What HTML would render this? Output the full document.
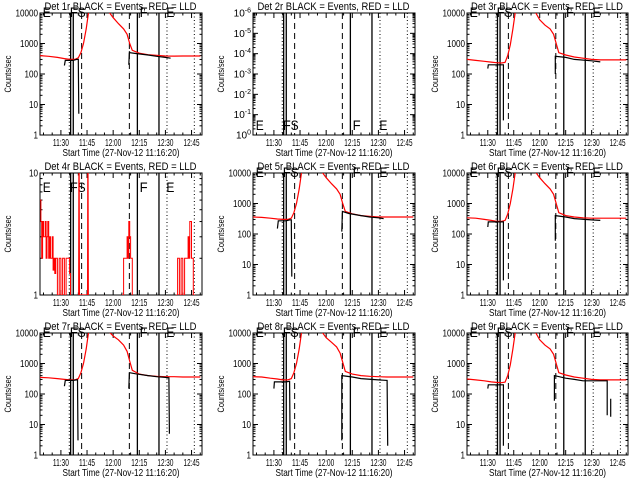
<!DOCTYPE html>
<html><head><meta charset="utf-8"><style>
html,body{margin:0;padding:0;background:#fff;}
svg{display:block;font-family:"Liberation Sans",sans-serif;}
</style></head><body>
<svg id="chart" width="640" height="480" viewBox="0 0 640 480" xmlns="http://www.w3.org/2000/svg">
<rect x="0" y="0" width="640" height="480" fill="#fff"/>
</svg>
<script>
// ---- data ----
const xTickLabels = ["11:30","11:45","12:00","12:15","12:30","12:45"];
const xTickTimes = [690,705,720,735,750,765];
const markerTimes = [694.8,695.6,697.1,701.9,729.3,733.9,746.3,750.9,766.6];
const markerStyles = ["dot","solid","solid","dash","dash","solid","solid","dot","dot"];
const letterLabels = ["E","F","S","F","E"];
const letterTimes = [679,694.5,699,734.6,750];
const redT = [678,683,688,692,695,698,700,701.5,703,704.5,706,717,720,723,726,728,729.5,731,735,740,745,750,755,760,765,770];
const red1 = [400,380,350,320,300,300,340,500,1000,3000,12000,12000,7000,4500,3000,2000,1000,600,480,430,410,390,385,390,390,390];
const red3 = [300,280,260,245,235,230,240,400,900,3000,12000,12000,6000,4000,3000,2000,1000,500,420,360,330,300,290,290,290,290];
const red5 = [360,350,330,310,300,300,330,500,1000,3000,12000,12000,7000,4500,3000,2000,1000,550,460,400,380,360,360,360,360,360];
const red6 = [340,330,300,280,260,260,280,450,1000,3000,12000,12000,7000,4500,3000,2000,1000,500,400,360,340,330,330,330,330,330];
const red7 = [350,340,320,300,290,290,320,500,1000,3000,12000,12000,8000,6000,4000,2500,1200,600,450,400,380,370,370,360,360,360];
const red8 = [370,360,330,310,290,290,320,500,1000,3000,12000,12000,7000,5000,3500,2200,1100,550,450,400,380,370,360,360,360,360];
const red9 = [310,290,270,250,240,235,245,400,900,3000,12000,12000,6000,4000,3000,2000,1000,500,420,360,330,300,290,290,290,290];
const blk1T = [692,692.5,697,698,699,700,700.3,NaN,729,729.3,729.6,733,740,745,750,753];
const blk1V = [190,280,280,290,300,300,5,NaN,200,550,500,470,420,380,350,330];
const blk3T = [690,690.3,699,699,NaN,729,729,735,740,750,755];
const blk3V = [150,200,200,3,NaN,100,380,350,300,270,250];
const blk5T = [692,692.5,697,699,700,700.3,NaN,729,729.3,733,740,745,750,753];
const blk5V = [150,270,270,290,290,4,NaN,120,550,470,400,360,340,320];
const blk6T = [690,690.3,699,699,NaN,729,729,735,740,750,755];
const blk6V = [170,250,250,3,NaN,60,400,360,320,290,280];
const blk7T = [692,692.5,697,699,699.5,699.8,NaN,729,729.3,733,740,745,750,752,752.3];
const blk7V = [180,280,280,290,290,3,NaN,150,500,460,400,370,350,340,5];
const blk8T = [690,690.3,697,699,699.3,NaN,729,729,735,740,750,755,755.3];
const blk8V = [150,250,250,260,3,NaN,3,400,360,320,290,280,2];
const blk9T = [690,690.3,699,699,NaN,728.5,728.5,735,740,745,759,759,NaN,761,761];
const blk9V = [150,200,200,2,NaN,60,400,330,300,270,270,20,NaN,70,18];
const p4T = [678,678.5,679,679.5,680,681,681.5,682,682.5,683,683.5,684,685,685.5,686,686.5,687,688,689,690,691,692,693,694,695,695.5];
const p4V = [6,4,2,4,3,4,2,3,4,2,3,2,3,1.6,2,1.5,2,1,2,1,2,1,2,2,1.5,1];
const p4bT = [700.2,700.4,700.6,705.3,705.5,705.7];
const p4bV = [1,20,1,1,20,1];
const p4cT = [725,726,727,727.5,728,728.5,729,729.5,730,731];
const p4cV = [1,2,2,2,3,2,4,3,2,1];
const p4dT = [756,757,758,759,760,761,762,763,763.5,764,765,766,767];
const p4dV = [1,2,1,2,1,2,2,3,2,4,2,1,1];

// ---- layout ----
const NS="http://www.w3.org/2000/svg";
const svg=document.getElementById('chart');
const colX=[40,253,467], colW=[162,162,161], rowY=[13,173,333], PH=122;
const T0=678, T1=771;
function mk(tag,attrs,parent){const e=document.createElementNS(NS,tag);for(const k in attrs)e.setAttribute(k,attrs[k]);(parent||svg).appendChild(e);return e;}
function fit(e,len){e.setAttribute('textLength',len);e.setAttribute('lengthAdjust','spacingAndGlyphs');}

const panels=[
 {det:1,c:0,r:0,ymin:1,ymax:10000,kind:"std",red:red1,bT:blk1T,bV:blk1V,letters:"top-hidden"},
 {det:2,c:1,r:0,ymin:1,ymax:1e6,kind:"pow",red:null,letters:"bottom"},
 {det:3,c:2,r:0,ymin:1,ymax:10000,kind:"std",red:red3,bT:blk3T,bV:blk3V,letters:"top-hidden"},
 {det:4,c:0,r:1,ymin:1,ymax:10,kind:"small",red:null,letters:"top"},
 {det:5,c:1,r:1,ymin:1,ymax:10000,kind:"std",red:red5,bT:blk5T,bV:blk5V,letters:"top-hidden"},
 {det:6,c:2,r:1,ymin:1,ymax:10000,kind:"std",red:red6,bT:blk6T,bV:blk6V,letters:"top-hidden"},
 {det:7,c:0,r:2,ymin:1,ymax:10000,kind:"std",red:red7,bT:blk7T,bV:blk7V,letters:"top-hidden"},
 {det:8,c:1,r:2,ymin:1,ymax:10000,kind:"std",red:red8,bT:blk8T,bV:blk8V,letters:"top-hidden"},
 {det:9,c:2,r:2,ymin:1,ymax:10000,kind:"std",red:red9,bT:blk9T,bV:blk9V,letters:"top-hidden"}
];

panels.forEach((p,i)=>{
 const x0=colX[p.c], w=colW[p.c], y0=rowY[p.r], y1=y0+PH;
 const g=mk('g',{});
 
 
 const X=t=>x0+(t-T0)/(T1-T0)*w;
 const lmin=Math.log10(p.ymin), lmax=Math.log10(p.ymax);
 const Y=v=>y1-(Math.log10(v)-lmin)/(lmax-lmin)*PH;
 const cp=mk('clipPath',{id:'cp'+i},g); mk('rect',{x:x0,y:y0,width:w,height:PH},cp);
 // letters (drawn first so title overlays)
 letterLabels.forEach((s,k)=>{let yy;
  if(p.letters==="bottom")yy=y1-5;else if(p.letters==="top")yy=y0+19;else yy=y0+4;
  const lt=mk('text',{x:X(letterTimes[k])+1,y:yy,'font-size':'14'},g);lt.textContent=s;
  fit(lt,8);
  
  });
 // title
 const tt=mk('text',{x:x0+w/2-0.5,y:y0-3,'text-anchor':'middle','font-size':'11'},g);
 tt.textContent='Det '+p.det+'r BLACK = Events, RED = LLD';
 fit(tt,152);
 
 
 // axes box
 const box=mk('rect',{x:x0,y:y0,width:w,height:PH,fill:'none',stroke:'#000','stroke-width':1},g);
 
 
 // x ticks
 for(let m=680;m<=770;m+=5){const xx=X(m);const L=(m%15===0)?5:2.5;
  mk('line',{x1:xx,x2:xx,y1:y1,y2:y1-L,stroke:'#000'},g);mk('line',{x1:xx,x2:xx,y1:y0,y2:y0+L,stroke:'#000'},g);}
 xTickTimes.forEach((t,k)=>{const tx=mk('text',{x:X(t),y:y1+11,'text-anchor':'middle','font-size':'10'},g);tx.textContent=xTickLabels[k];
  fit(tx,16);
  
  });
 const xl=mk('text',{x:x0+w/2,y:y1+21,'text-anchor':'middle','font-size':'10.5'},g);
 xl.textContent='Start Time (27-Nov-12 11:16:20)';
 fit(xl,117);
 
 
 // y ticks
 for(let d=lmin;d<=lmax;d++){
  const yy=Y(Math.pow(10,d));
  mk('line',{x1:x0,x2:x0+5,y1:yy,y2:yy,stroke:'#000'},g);mk('line',{x1:x0+w,x2:x0+w-5,y1:yy,y2:yy,stroke:'#000'},g);
  if(d<lmax)for(let k=2;k<10;k++){const ym=Y(k*Math.pow(10,d));mk('line',{x1:x0,x2:x0+2.5,y1:ym,y2:ym,stroke:'#000'},g);mk('line',{x1:x0+w,x2:x0+w-2.5,y1:ym,y2:ym,stroke:'#000'},g);}
  const lab=mk('text',{x:x0-2,y:yy+3.5,'text-anchor':'end','font-size':'10'},g);
  if(p.kind==="pow"){lab.textContent='10';const s=mk('tspan',{dy:-4,'font-size':'7'},lab);s.textContent=(d===0?'0':'-'+d);}
  else {lab.textContent=String(Math.round(Math.pow(10,d)));fit(lab,4.5*lab.textContent.length);}
  
  
 }
 const yl=mk('text',{x:0,y:0,'text-anchor':'middle','font-size':'9.5',transform:`translate(${x0-29},${y0+PH/2}) rotate(-90)`},g);
 yl.textContent='Counts/sec';
 fit(yl,37);
 
 
 // markers
 markerTimes.forEach((t,k)=>{const st=markerStyles[k];const a={x1:X(t),x2:X(t),y1:y0,y2:y1,stroke:'#000','stroke-width':st==='solid'?1.3:1};
  if(st==='dash')a['stroke-dasharray']='6,4';if(st==='dot')a['stroke-dasharray']='1,2.5';
  const ln=mk('line',a,g);
  
  });
 // data
 const dg=mk('g',{'clip-path':`url(#cp${i})`},g);
 function poly(T,V,col,name){let d='',pen=false;
  for(let k=0;k<T.length;k++){if(isNaN(T[k])){pen=false;continue;}d+=(pen?'L':'M')+X(T[k]).toFixed(1)+','+Y(V[k]).toFixed(1);pen=true;}
  const pe=mk('path',{d:d,fill:'none',stroke:col,'stroke-width':1.2},dg);
  
  }
 function steps(T,V,col,name){let d='';
  for(let k=0;k<T.length;k++){const yy=Y(V[k]).toFixed(1);d+=(k?'L'+X(T[k]).toFixed(1)+','+Y(V[k-1]).toFixed(1)+'L':'M')+X(T[k]).toFixed(1)+','+yy;}
  const pe=mk('path',{d:d,fill:'none',stroke:col,'stroke-width':1},dg);
  
  }
 if(p.red)poly(redT,p.red,'#f00','lld-series');
 if(p.bT)poly(p.bT,p.bV,'#000','events-series');
 if(p.det===4){steps(p4T,p4V,'#f00','lld-series');poly(p4bT,p4bV,'#f00','lld-spikes');steps(p4cT,p4cV,'#f00','lld-series');steps(p4dT,p4dV,'#f00','lld-series');}
});
</script>
</body></html>
